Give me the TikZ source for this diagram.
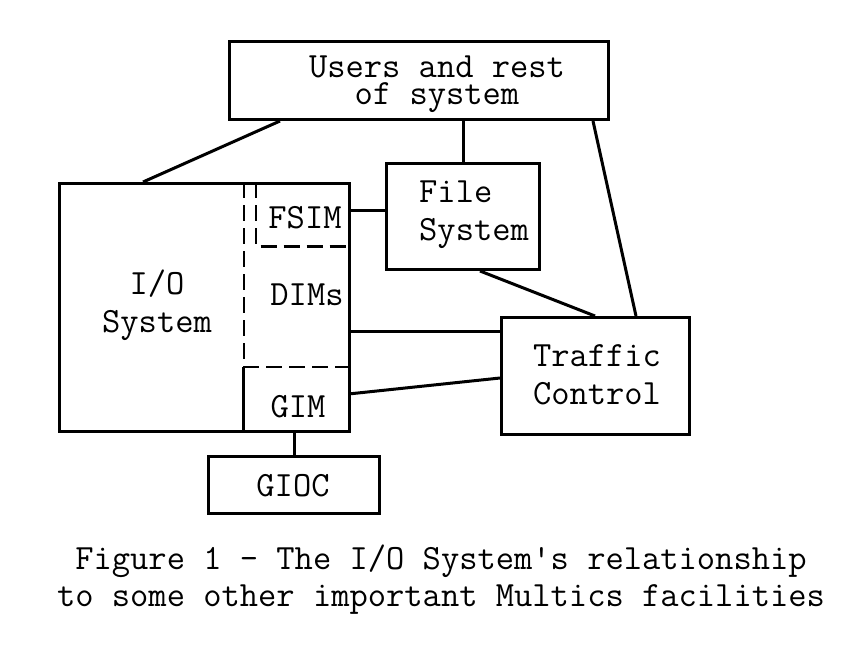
\documentclass[tikz,border=0pt]{standalone}
\begin{document}
\begin{tikzpicture}[x=1pt,y=-1pt,
  box/.style={draw, line width=3pt, inner sep=0pt, anchor=north west},
  region/.style={inner sep=0pt, anchor=north west},
  lbl/.style={font=\fontsize{35.5}{30}\selectfont\ttfamily, inner sep=0pt, align=center},
  conn/.style={line width=3pt},
  inner/.style={line width=2.4pt, dash pattern=on 16pt off 7pt}]
\useasboundingbox[fill=white] (0,0) rectangle (864,653);
% boxes
\node[box, minimum width=379pt, minimum height=78pt] (users) at (228,40) {};
\node[box, minimum width=290pt, minimum height=248pt] (io) at (58,182) {};
\node[box, minimum width=153pt, minimum height=106pt] (fs) at (385,162) {};
\node[box, minimum width=188pt, minimum height=117pt] (tc) at (500,316) {};
\node[box, minimum width=171pt, minimum height=57pt] (gioc) at (207,455) {};
% internal regions
\node[region, minimum width=92pt, minimum height=64pt] (fsim) at (256,182) {};
\node[region, minimum width=104pt, minimum height=121pt] (dims) at (244,246) {};
\node[region, minimum width=105pt, minimum height=63pt] (gim) at (243,367) {};
\draw[inner] (fsim.north west) -- (fsim.south west) -- (fsim.south east);
\draw[inner] (dims.north west |- io.north) -- (dims.south west);
\draw[inner] (gim.north west) -- (gim.north east);
\draw[conn] (gim.north west) -- (gim.south west);
% labels
\node[lbl, anchor=base] (tusers1) at (437,77) {Users and rest};
\node[lbl, anchor=base] (tusers2) at (437,104) {of system};
\node[lbl] (tio) at (157,305) {I/O\\[8pt]System};
\node[lbl] (tfsim) at (305,218) {FSIM};
\node[lbl] (tdims) at (307,295) {DIMs};
\node[lbl] (tgim) at (298,407) {GIM};
\node[lbl, align=left, anchor=west] (tfs) at (419,215) {File\\[8pt]System};
\node[lbl] (ttc) at (597,375) {Traffic\\[8pt]Control};
\node[lbl] (tgioc) at (293,486) {GIOC};
\node[lbl] (caption) at (441,580) {Figure 1 - The I/O System's relationship\\[6pt]to some other important Multics facilities};
% connectors
\draw[conn] ([xshift=52pt]users.south west) -- ([xshift=85pt]io.north west);
\draw[conn] (fs.north |- users.south) -- (fs.north);
\draw[conn] ([xshift=-17pt]users.south east) -- ([xshift=-55pt]tc.north east);
\draw[conn] ([yshift=-28pt]fsim.north east) -- ([yshift=-28pt]fsim.north east -| fs.west);
\draw[conn] ([xshift=95pt]fs.south west) -- ([xshift=95pt]tc.north west);
\draw[conn] ([yshift=-85pt]dims.north east) -- ([yshift=-85pt]dims.north east -| tc.west);
\draw[conn] ([yshift=-27pt]gim.north east) -- ([yshift=-62pt]tc.north west);
\draw[conn] (gioc.north |- gim.south) -- (gioc.north);
\end{tikzpicture}
\end{document}
